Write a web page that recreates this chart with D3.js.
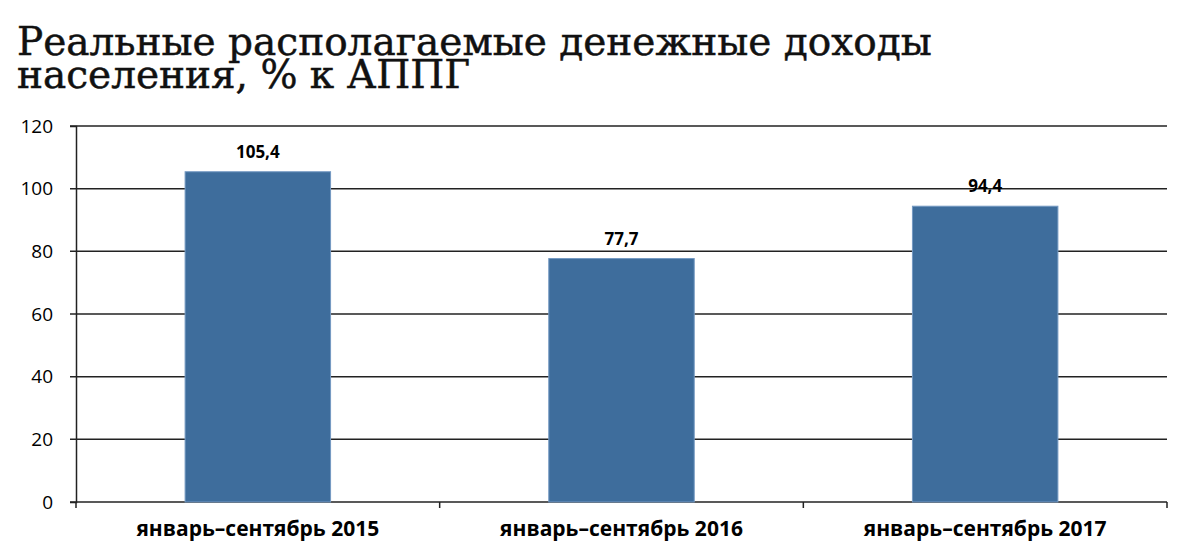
<!DOCTYPE html>
<html>
<head>
<meta charset="utf-8">
<script src="https://cdn.jsdelivr.net/npm/d3@7"></script>
<style>
  body { margin: 0; background: #fff; }
  .title { font-family: "DejaVu Serif", serif; font-size: 39px; fill: #111; stroke: #111; stroke-width: 0.5px; }
  .tick text { font-family: "Open Sans", sans-serif; font-size: 19px; fill: #000; }
  .cat { font-family: "Open Sans", sans-serif; font-weight: bold; font-size: 21px; fill: #000; }
  .val { font-family: "Open Sans", sans-serif; font-weight: bold; font-size: 17px; fill: #000; }
</style>
</head>
<body>
<div id="chart"></div>
<script>
const categories = ['январь–сентябрь 2015', 'январь–сентябрь 2016', 'январь–сентябрь 2017'];
const values = [105.4, 77.7, 94.4];
const valueLabels = ['105,4', '77,7', '94,4'];
const yTicks = [0, 20, 40, 60, 80, 100, 120];
const titleLines = ['Реальные располагаемые денежные доходы', 'населения, % к АППГ'];

const width = 1200, height = 543;
const margin = {top: 126, right: 33, bottom: 41, left: 76};

const svg = d3.select('#chart').append('svg')
  .attr('width', width)
  .attr('height', height);

svg.append('text')
  .attr('class', 'title')
  .selectAll('tspan')
  .data(titleLines)
  .join('tspan')
  .attr('x', 17)
  .attr('y', (d, i) => 55 + i * 33)
  .text(d => d);

const x = d3.scaleBand()
  .domain(categories)
  .range([margin.left, width - margin.right])
  .paddingInner(0.6)
  .paddingOuter(0.3);

const y = d3.scaleLinear()
  .domain([0, 120])
  .range([height - margin.bottom, margin.top]);

// gridlines
svg.append('g')
  .selectAll('line')
  .data(yTicks)
  .join('line')
  .attr('x1', margin.left - 6)
  .attr('x2', width - margin.right)
  .attr('y1', d => y(d))
  .attr('y2', d => y(d))
  .attr('stroke', '#222')
  .attr('stroke-width', 1.5);

// y axis
const yAxis = svg.append('g')
  .attr('transform', `translate(${margin.left},0)`)
  .call(d3.axisLeft(y).tickValues(yTicks).tickSize(6).tickPadding(17));
yAxis.select('.domain').attr('stroke', '#222').attr('stroke-width', 1.5);
yAxis.selectAll('.tick line').remove();

// x axis ticks at category boundaries
const plotW = width - margin.left - margin.right;
const bounds = d3.range(categories.length + 1).map(i => margin.left + i * plotW / categories.length);
svg.append('g')
  .selectAll('line')
  .data(bounds)
  .join('line')
  .attr('x1', d => d)
  .attr('x2', d => d)
  .attr('y1', y(0))
  .attr('y2', y(0) + 6)
  .attr('stroke', '#222')
  .attr('stroke-width', 1.5);

// bars
svg.append('g')
  .selectAll('rect')
  .data(values)
  .join('rect')
  .attr('x', (d, i) => x(categories[i]))
  .attr('y', d => y(d))
  .attr('width', x.bandwidth())
  .attr('height', d => y(0) - y(d))
  .attr('fill', '#3e6d9c')
  .attr('stroke', '#7499c2')
  .attr('stroke-width', 1);

// value labels
svg.append('g')
  .selectAll('text')
  .data(values)
  .join('text')
  .attr('class', 'val')
  .attr('text-anchor', 'middle')
  .attr('x', (d, i) => x(categories[i]) + x.bandwidth() / 2)
  .attr('y', d => y(d) - 14)
  .text((d, i) => valueLabels[i]);

// category labels
svg.append('g')
  .selectAll('text')
  .data(categories)
  .join('text')
  .attr('class', 'cat')
  .attr('text-anchor', 'middle')
  .attr('x', d => x(d) + x.bandwidth() / 2)
  .attr('y', 536)
  .text(d => d);
</script>
</body>
</html>
